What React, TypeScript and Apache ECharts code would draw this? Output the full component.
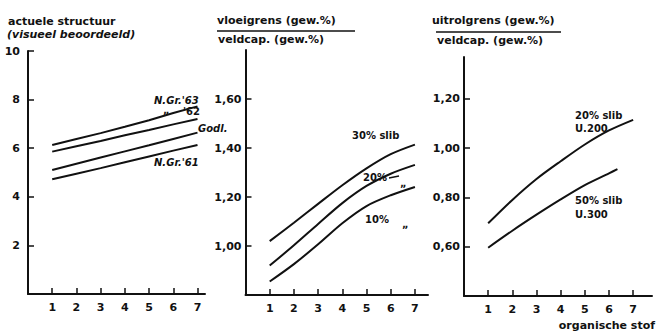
import React, { useEffect, useRef } from "react";
import * as echarts from "echarts";

const xs = [1, 2, 3, 4, 5, 6, 7];
const xTicks = [1, 2, 3, 4, 5, 6, 7];

// panel 1: actuele structuur
const ngr63 = [6.13, 6.38, 6.62, 6.88, 7.15, 7.45, 7.72];
const ngr62 = [5.86, 6.08, 6.3, 6.53, 6.75, 6.98, 7.2];
const godl = [5.1, 5.36, 5.62, 5.87, 6.12, 6.38, 6.64];
const ngr61 = [4.72, 4.95, 5.18, 5.42, 5.66, 5.9, 6.13];
const y1Ticks = [2, 4, 6, 8, 10];

// panel 2: vloeigrens / veldcap.
const slib30 = [1.02, 1.095, 1.172, 1.248, 1.317, 1.375, 1.414];
const slib20 = [0.92, 1.003, 1.09, 1.175, 1.245, 1.295, 1.331];
const slib10 = [0.855, 0.926, 1.007, 1.093, 1.163, 1.207, 1.241];
const y2Ticks = [1.0, 1.2, 1.4, 1.6];

// panel 3: uitrolgrens / veldcap.
const u200 = [0.695, 0.79, 0.875, 0.947, 1.015, 1.072, 1.115];
const u300x = [1, 2, 3, 4, 5, 6, 6.35];
const u300 = [0.596, 0.665, 0.73, 0.792, 0.85, 0.898, 0.915];
const y3Ticks = [0.6, 0.8, 1.0, 1.2];

const FONT = "DejaVu Sans";
const INK = "#111";

const pairs = (x: number[], y: number[]) => x.map((v, i) => [v, y[i]]);

export default function App() {
  const ref = useRef<HTMLDivElement>(null);
  useEffect(() => {
    if (!ref.current) return;
    const chart = echarts.init(ref.current, null, { renderer: "svg" });

    const axisCommon = {
      axisLine: { show: true, lineStyle: { color: INK, width: 2 } },
      splitLine: { show: false },
      axisTick: { show: true, inside: true, length: 6, lineStyle: { color: INK, width: 1.5 } },
      axisLabel: { color: INK, fontFamily: FONT, fontWeight: "bold" as const, fontSize: 11 },
    };

    const xAxis = (idx: number, max: number) => ({
      type: "value" as const,
      gridIndex: idx,
      min: 0,
      max,
      interval: 1,
      ...axisCommon,
      axisTick: { ...axisCommon.axisTick, customValues: xTicks },
      axisLabel: { ...axisCommon.axisLabel, customValues: xTicks, margin: 8 },
    });

    const yAxis = (idx: number, min: number, max: number, ticks: number[], fmt: (v: number) => string, margin: number) => ({
      type: "value" as const,
      gridIndex: idx,
      min,
      max,
      ...axisCommon,
      axisTick: { ...axisCommon.axisTick, customValues: ticks },
      axisLabel: { ...axisCommon.axisLabel, customValues: ticks, formatter: fmt, margin },
    });

    const comma = (v: number) => v.toFixed(2).replace(".", ",");

    const line = (x: number, data: number[][], smooth: number | boolean) => ({
      type: "line" as const,
      xAxisIndex: x,
      yAxisIndex: x,
      data,
      smooth,
      showSymbol: false,
      symbol: "none",
      lineStyle: { color: INK, width: 2 },
      silent: true,
    });

    const txt = (x: number, y: number, text: string, opts: any = {}) => ({
      type: "text" as const,
      x,
      y,
      style: {
        text,
        fill: INK,
        font: `${opts.italic ? "italic " : ""}bold ${opts.size || 11}px "${FONT}"`,
        textVerticalAlign: "middle",
        textAlign: opts.align || "left",
      },
    });

    const gline = (x1: number, y1: number, x2: number, y2: number) => ({
      type: "line" as const,
      shape: { x1, y1, x2, y2 },
      style: { stroke: INK, lineWidth: 1.5 },
    });

    chart.setOption({
      animation: false,
      backgroundColor: "#fff",
      grid: [
        { left: 28, top: 51, width: 177, bottom: 38 },
        { left: 245.5, top: 50, width: 182.5, bottom: 37 },
        { left: 464, top: 57, width: 188, bottom: 36 },
      ],
      xAxis: [xAxis(0, 7.31), xAxis(1, 7.54), xAxis(2, 7.78)],
      yAxis: [
        yAxis(0, 0, 10, y1Ticks, (v: number) => String(v), 8),
        yAxis(1, 0.8, 1.8, y2Ticks, comma, 4),
        yAxis(2, 0.4, 1.37, y3Ticks, comma, 4),
      ],
      series: [
        line(0, pairs(xs, ngr63), false),
        line(0, pairs(xs, ngr62), false),
        line(0, pairs(xs, godl), false),
        line(0, pairs(xs, ngr61), false),
        line(1, pairs(xs, slib30), 0.3),
        line(1, pairs(xs, slib20), 0.3),
        line(1, pairs(xs, slib10), 0.3),
        line(2, pairs(xs, u200), 0.3),
        line(2, pairs(u300x, u300), 0.3),
      ],
      graphic: [
        txt(8, 21, "actuele structuur"),
        txt(7, 34, "(visueel beoordeeld)", { italic: true }),
        txt(217, 20, "vloeigrens (gew.%)"),
        gline(217, 31, 355, 31),
        txt(218, 39, "veldcap. (gew.%)"),
        txt(432, 20, "uitrolgrens (gew.%)"),
        gline(436, 32, 561, 32),
        txt(437, 40, "veldcap. (gew.%)"),
        txt(154, 100, "N.Gr.'63", { italic: true, size: 10 }),
        txt(163, 110, "„", { size: 10 }),
        txt(183, 111, "'62", { size: 10 }),
        txt(198, 128, "Godl.", { italic: true, size: 10 }),
        txt(154, 162, "N.Gr.'61", { italic: true, size: 10 }),
        txt(352, 135, "30% slib", { size: 10 }),
        txt(363, 177, "20%", { size: 10 }),
        gline(389, 178, 399, 176),
        txt(400, 183, "„", { size: 10 }),
        txt(365, 219, "10%", { size: 10 }),
        txt(402, 224, "„", { size: 10 }),
        txt(575, 115, "20% slib", { size: 10 }),
        txt(575, 128, "U.200", { size: 10 }),
        txt(575, 200, "50% slib", { size: 10 }),
        txt(575, 214, "U.300", { size: 10 }),
        txt(655, 325, "organische stof", { align: "right" }),
      ],
    });
    return () => chart.dispose();
  }, []);
  return (
    <div
      ref={ref}
      style={{ position: "fixed", left: 0, top: 0, width: 656, height: 332, background: "#fff" }}
    />
  );
}
